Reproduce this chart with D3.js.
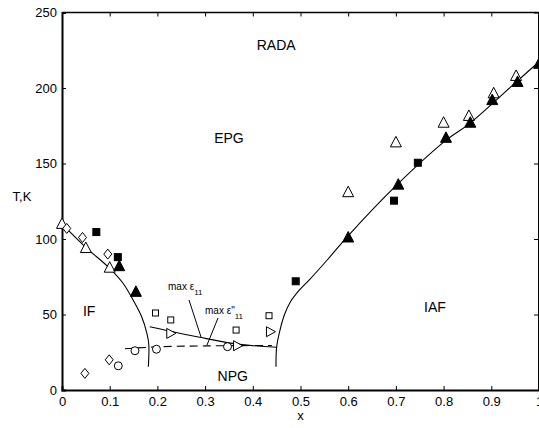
<!DOCTYPE html>
<html><head><meta charset="utf-8">
<script src="https://cdn.jsdelivr.net/npm/d3@7"></script>
<style>body{margin:0;background:#fff}svg{display:block}text{font-family:"Liberation Sans",Arial,sans-serif;fill:#000}</style>
</head><body>
<script>
// ---- data ----
const xTicks = [0,0.1,0.2,0.3,0.4,0.5,0.6,0.7,0.8,0.9,1];
const yTicks = [0,50,100,150,200,250];
const openTri = [[0,110],[0.05,94],[0.1,81],[0.6,131],[0.7,164],[0.8,177],[0.853,181.5],[0.905,196.5],[0.952,208]];
const filledTri = [[0.12,82],[0.155,65],[0.6,101],[0.705,136],[0.805,167],[0.856,177],[0.902,192],[0.955,204],[1.0,216]];
const filledSq = [[0.072,104.6],[0.117,88],[0.49,72],[0.696,125.4],[0.746,150.5]];
const diamonds = [[0.01,107],[0.043,101],[0.096,90],[0.048,11],[0.099,20]];
const circles = [[0.118,16],[0.153,26],[0.198,27],[0.347,28.7]];
const openSq = [[0.196,51],[0.228,46.4],[0.365,39.7],[0.434,49.2]];
const rightTri = [[0.228,37.5],[0.368,29.3],[0.437,38.6]];
const ifBoundary = [[0.0,110],[0.048,95],[0.1,80.6],[0.128,70.7],[0.149,59.6],[0.167,48.5],[0.178,37.5],[0.182,30],[0.181,15.4]];
const iafBoundary = [[0.4486,15.4],[0.4501,28.7],[0.457,39.7],[0.4665,50],[0.479,58.5],[0.497,66],[0.52,73.5],[0.556,86.1],[0.5975,101.3],[0.702,135.8],[0.806,165.6],[0.855,176.6],[0.953,204.2],[1.0,217.4]];
const maxEps = [[0.184,41.9],[0.289,34.9],[0.373,30.2],[0.45,28.3]];
const maxEps2 = [[0.132,27.3],[0.2,28.6],[0.3,29.2],[0.44,29.5]];
const regionLabels = [["RADA",0.449,225],["EPG",0.35,163.5],["IF",0.057,49],["IAF",0.782,51.7],["NPG",0.358,6]];

// ---- layout ----
const W=539,H=428;
const x=d3.scaleLinear().domain([0,1]).range([62,539]);
const y=d3.scaleLinear().domain([0,250]).range([390,12.5]);
const svg=d3.select("body").append("svg").attr("width",W).attr("height",H);

// frame
svg.append("line").attr("x1",x(0)).attr("x2",x(1)).attr("y1",y(250)).attr("y2",y(250)).attr("stroke","#000").attr("stroke-width",1.3);
svg.append("line").attr("x1",x(1)-0.5).attr("x2",x(1)-0.5).attr("y1",y(250)).attr("y2",y(0)).attr("stroke","#000").attr("stroke-width",1);

// axes
const xa=svg.append("g").attr("transform",`translate(0,${y(0)})`)
  .call(d3.axisBottom(x).tickValues(xTicks).tickSize(-4).tickPadding(8).tickFormat(d=>d===0?"0":d===1?"1":d3.format(".1f")(d)));
const ya=svg.append("g").attr("transform",`translate(${x(0)},0)`)
  .call(d3.axisLeft(y).tickValues(yTicks).tickSize(-4).tickPadding(5));
[xa,ya].forEach(g=>{g.select(".domain").attr("stroke-width",2);g.selectAll("text").attr("font-size",13).attr("font-family","Liberation Sans, Arial, sans-serif");g.selectAll("line").attr("stroke-width",1);});
xa.selectAll("text").attr("dy","0.62em");
// top & right ticks
svg.append("g").attr("transform",`translate(0,${y(250)})`).call(d3.axisTop(x).tickValues(xTicks).tickSize(-4).tickFormat("")).call(g=>g.select(".domain").remove());
svg.append("g").attr("transform",`translate(${x(1)-1},0)`).call(d3.axisRight(y).tickValues(yTicks).tickSize(-4).tickFormat("")).call(g=>g.select(".domain").remove());

svg.append("text").attr("x",x(0.5)).attr("y",420).attr("text-anchor","middle").attr("font-size",13).text("x");
svg.append("text").attr("x",22).attr("y",201).attr("text-anchor","middle").attr("font-size",13).text("T,K");

// curves
const line=d3.line().x(d=>x(d[0])).y(d=>y(d[1])).curve(d3.curveCatmullRom.alpha(0.5));
const curves=svg.append("g").attr("fill","none").attr("stroke","#000").attr("stroke-width",1.1);
curves.append("path").attr("d",line(ifBoundary));
curves.append("path").attr("d",line(iafBoundary));
curves.append("path").attr("d",line(maxEps));
curves.append("path").attr("d",line(maxEps2)).attr("stroke-dasharray","8,5");

// annotations
const ann=svg.append("g").attr("font-size",10);
const t1=ann.append("text").attr("x",168).attr("y",290);
t1.append("tspan").text("max ε");
t1.append("tspan").attr("font-size",8).attr("dy",5).text("11");
const t2=ann.append("text").attr("x",205).attr("y",314);
t2.append("tspan").text("max ε\"");
t2.append("tspan").attr("font-size",8).attr("dy",5).text("11");
svg.append("line").attr("x1",189).attr("y1",300).attr("x2",201).attr("y2",337).attr("stroke","#000");
svg.append("line").attr("x1",218).attr("y1",318).attr("x2",207).attr("y2",345).attr("stroke","#000");

// region labels
svg.append("g").selectAll("text").data(regionLabels).join("text")
  .attr("x",d=>x(d[1])).attr("y",d=>y(d[2])).attr("text-anchor","middle").attr("font-size",14).text(d=>d[0]);

// markers
const mk=svg.append("g").attr("stroke","#000").attr("stroke-width",1);
const tri=(s)=>`M0,${-s*0.6}L${s*0.55},${s*0.45}L${-s*0.55},${s*0.45}Z`;
mk.selectAll(".ot").data(openTri).join("path").attr("d",tri(10)).attr("fill","#fff").attr("transform",d=>`translate(${x(d[0])},${y(d[1])})`);
mk.selectAll(".ft").data(filledTri).join("path").attr("d",tri(10)).attr("fill","#000").attr("transform",d=>`translate(${x(d[0])},${y(d[1])})`);
mk.selectAll(".fs").data(filledSq).join("rect").attr("x",d=>x(d[0])-3.5).attr("y",d=>y(d[1])-3.5).attr("width",7).attr("height",7).attr("fill","#000");
mk.selectAll(".os").data(openSq).join("rect").attr("x",d=>x(d[0])-3).attr("y",d=>y(d[1])-3).attr("width",6).attr("height",6).attr("fill","#fff");
mk.selectAll(".dm").data(diamonds).join("path").attr("d","M0,-5L4,0L0,5L-4,0Z").attr("fill","#fff").attr("transform",d=>`translate(${x(d[0])},${y(d[1])})`);
mk.selectAll(".ci").data(circles).join("circle").attr("cx",d=>x(d[0])).attr("cy",d=>y(d[1])).attr("r",4).attr("fill","#fff");
mk.selectAll(".rt").data(rightTri).join("path").attr("d","M5,0L-4,-5L-4,5Z").attr("fill","#fff").attr("transform",d=>`translate(${x(d[0])},${y(d[1])})`);
</script>
</body></html>
